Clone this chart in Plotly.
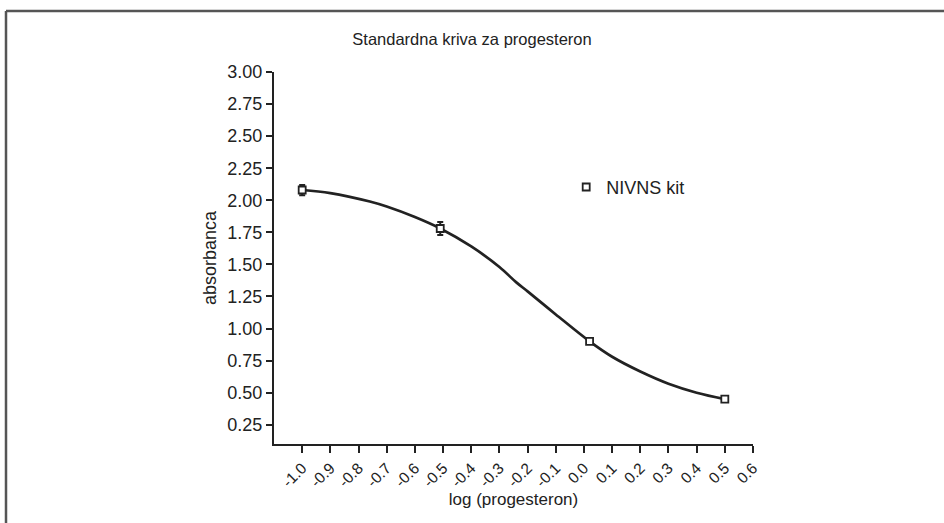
import plotly.graph_objects as go

# measured standards (log concentration vs absorbance)
log_conc = [-1.0, -0.51, 0.02, 0.50]
absorbance = [2.08, 1.78, 0.90, 0.45]
abs_err = [0.04, 0.05, 0.015, 0.01]

# fitted curve
curve_x = [-1.0, -0.9, -0.76, -0.7, -0.6, -0.51, -0.4, -0.3, -0.24, -0.2, -0.1,
           0.02, 0.1, 0.2, 0.3, 0.4, 0.5]
curve_y = [2.08, 2.056, 1.99, 1.951, 1.869, 1.78, 1.64, 1.48, 1.36, 1.29, 1.11,
           0.90, 0.78, 0.665, 0.57, 0.50, 0.45]

x_ticks = [-1.0, -0.9, -0.8, -0.7, -0.6, -0.5, -0.4, -0.3, -0.2, -0.1,
           0.0, 0.1, 0.2, 0.3, 0.4, 0.5, 0.6]
y_ticks = [0.25, 0.50, 0.75, 1.00, 1.25, 1.50, 1.75, 2.00, 2.25, 2.50, 2.75, 3.00]

ink = "#222222"

fig = go.Figure()

fig.add_trace(go.Scatter(
    x=curve_x, y=curve_y,
    mode="lines",
    line=dict(color=ink, width=2.7, shape="spline", smoothing=1.0),
    showlegend=False,
    hoverinfo="skip",
))

fig.add_trace(go.Scatter(
    x=log_conc, y=absorbance,
    mode="markers",
    name="NIVNS kit",
    marker=dict(symbol="square", size=7, color="white",
                line=dict(color=ink, width=1.8)),
    error_y=dict(type="data", array=abs_err, color=ink, thickness=2, width=3),
))

fig.update_layout(
    width=944,
    height=523,
    margin=dict(l=274, r=191, t=72, b=79),
    paper_bgcolor="white",
    plot_bgcolor="white",
    font=dict(family="Liberation Sans, Arial, sans-serif", size=16, color=ink),
    title=dict(
        text="Standardna kriva za progesteron",
        x=0.5, xref="container", xanchor="center",
        y=1 - 33 / 523, yref="container", yanchor="top",
        font=dict(size=16.5, color=ink),
    ),
    legend=dict(
        x=0.61, y=0.69, xanchor="left", yanchor="middle",
        bgcolor="rgba(0,0,0,0)",
        font=dict(size=18, color=ink),
        itemwidth=30,
    ),
    shapes=[
        dict(type="line", xref="paper", yref="paper",
             x0=(6 - 274) / 479, x1=(944 - 274) / 479,
             y0=(444 - 11) / 372, y1=(444 - 11) / 372,
             line=dict(color="#555555", width=2.5)),
        dict(type="line", xref="paper", yref="paper",
             x0=(6 - 274) / 479, x1=(6 - 274) / 479,
             y0=(444 - 11) / 372, y1=(444 - 523) / 372,
             line=dict(color="#555555", width=2.5)),
    ],
)

fig.update_xaxes(
    range=[-1.1, 0.6],
    automargin=False,
    tickvals=x_ticks,
    ticktext=[f"{v:.1f}" for v in x_ticks],
    tickangle=-45,
    showline=True, linecolor=ink, linewidth=2,
    ticks="outside", ticklen=7, tickwidth=2, tickcolor=ink,
    showgrid=False, zeroline=False,
    tickfont=dict(size=15.5),
    title=dict(text="log (progesteron)", font=dict(size=17), standoff=0),
)

fig.update_yaxes(
    range=[0.1, 3.0],
    automargin=False,
    tickvals=y_ticks,
    ticktext=[f"{v:.2f}" for v in y_ticks],
    showline=True, linecolor=ink, linewidth=2,
    ticks="outside", ticklen=6, tickwidth=2, tickcolor=ink,
    showgrid=False, zeroline=False,
    tickfont=dict(size=18),
    title=dict(text="absorbanca", font=dict(size=18), standoff=6),
)

# page has a default body margin; drop it so the figure sits at (0, 0)
fig.write_html(
    "out.html",
    config={"displayModeBar": False},
    post_script="document.body.style.margin = '0';",
)
